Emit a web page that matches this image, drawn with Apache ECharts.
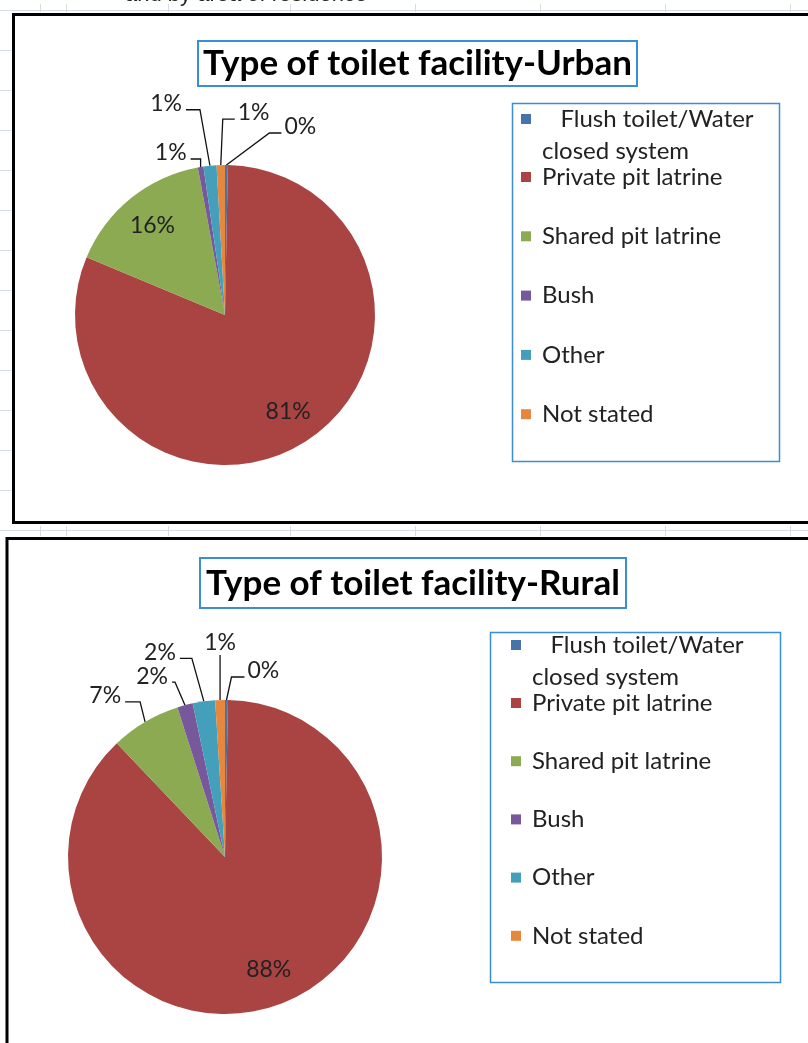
<!DOCTYPE html>
<html lang="en">
    <head>
        <meta charset="utf-8">
        <title>Type of toilet facility</title>
        <style>
            html, body { margin: 0; padding: 0; background: #fff; }
            #main { width: 808px; height: 1043px; }
        </style>
    </head>
    <body>
        <div id="main"></div>
        <script src="https://cdn.jsdelivr.net/npm/echarts@6/dist/echarts.min.js"></script>
        <script type="text/javascript">
            // categories, same order as the excel sheet (clockwise from 12 o'clock)
            var categories = ['Flush toilet/Water closed system', 'Private pit latrine', 'Shared pit latrine', 'Bush', 'Other', 'Not stated'];
            // percent of households
            var urbanValues = [0.3, 81.0, 15.8, 0.6, 1.4, 0.9];
            var ruralValues = [0.3, 87.6, 7.2, 1.6, 2.3, 1.0];
            var sliceColors = ['#4673AA', '#A94442', '#8CAA52', '#77599B', '#44A0BA', '#E5873D'];

            // leader lines of the small slices: elbow offset from the slice edge, then horizontal run
            var urbanLeaders = [
                { dx: 43, dy: -32, len: 12 },
                null,
                null,
                { dx: 0, dy: -8, len: -10 },
                { dx: -10, dy: -56, len: -14 },
                { dx: 2, dy: -46, len: 12 }
            ];
            var ruralLeaders = [
                { dx: 5, dy: -23, len: 13 },
                null,
                { dx: -5, dy: -20, len: -15 },
                { dx: -10, dy: -23, len: -3 },
                { dx: -12, dy: -43, len: -12 },
                { dx: 0, dy: -45, len: 0 }
            ];

            var FONT = 'Lato, "Open Sans", sans-serif';
            var INSIDE_MIN = 10;
            var myChart = echarts.init(document.getElementById('main'));

            function pctLabel(p) {
                return Math.round(p.percent) + '%';
            }

            // main pie: small slices get outside labels with leader lines
            function mainData(values) {
                return values.map(function (v, i) {
                    return {
                        name: categories[i],
                        value: v,
                        itemStyle: { color: sliceColors[i] },
                        label: { show: v < INSIDE_MIN },
                        labelLine: { show: v < INSIDE_MIN }
                    };
                });
            }
            // transparent ring, only used to put the big labels at 3/4 radius
            function ringData(values) {
                return values.map(function (v, i) {
                    return {
                        name: categories[i],
                        value: v,
                        label: { show: v >= INSIDE_MIN }
                    };
                });
            }

            function leaderLayout(leaders) {
                return function (params) {
                    var s = leaders[params.dataIndex];
                    if (!s || !params.labelLinePoints) {
                        return;
                    }
                    var p0 = params.labelLinePoints[0];
                    var p1 = [p0[0] + s.dx, p0[1] + s.dy];
                    var p2 = [p1[0] + s.len, p1[1]];
                    if (s.len === 0) {
                        return {
                            x: p2[0], y: p2[1] - 1,
                            align: 'center', verticalAlign: 'bottom',
                            labelLinePoints: [p0, p1, p2]
                        };
                    }
                    return {
                        x: s.len < 0 ? p2[0] - 4 : p2[0] + 3,
                        y: p2[1] - 6,
                        align: s.len < 0 ? 'right' : 'left',
                        verticalAlign: 'middle',
                        labelLinePoints: [p0, p1, p2]
                    };
                };
            }

            function pieSeries(values, leaders, center, r) {
                return [{
                    type: 'pie',
                    center: center,
                    radius: [0, r],
                    startAngle: 90,
                    clockwise: true,
                    animation: false,
                    avoidLabelOverlap: false,
                    itemStyle: { borderWidth: 0 },
                    label: {
                        position: 'outside',
                        formatter: pctLabel,
                        color: '#222',
                        fontSize: 23,
                        fontFamily: FONT
                    },
                    labelLine: {
                        length: 14,
                        length2: 14,
                        lineStyle: { color: '#111', width: 1.3 }
                    },
                    labelLayout: leaderLayout(leaders),
                    emphasis: { disabled: true },
                    data: mainData(values)
                }, {
                    type: 'pie',
                    center: center,
                    radius: [r / 2, r],
                    startAngle: 90,
                    silent: true,
                    animation: false,
                    itemStyle: { color: 'rgba(0,0,0,0)', borderWidth: 0 },
                    label: {
                        position: 'inside',
                        formatter: pctLabel,
                        color: '#222',
                        fontSize: 23,
                        fontFamily: FONT
                    },
                    labelLine: { show: false },
                    emphasis: { disabled: true },
                    data: ringData(values)
                }];
            }

            function legendName(name) {
                if (name === categories[0]) {
                    // blank first line keeps the square level with the first text line
                    return ' \n   Flush toilet/Water\nclosed system';
                }
                return name;
            }

            function legends(left, topFirst, topRest, gap) {
                var base = {
                    orient: 'vertical',
                    left: left,
                    padding: 0,
                    itemWidth: 22,
                    itemHeight: 10,
                    icon: 'path://M0,0h10v10h-10z',
                    symbolKeepAspect: true,
                    selectedMode: false,
                    itemStyle: { borderWidth: 0 },
                    formatter: legendName,
                    textStyle: { color: '#222', fontSize: 24, fontFamily: FONT, lineHeight: 24 }
                };
                var first = echarts.util.merge({
                    top: topFirst,
                    data: [categories[0]],
                    textStyle: { lineHeight: 32 }
                }, base);
                var rest = echarts.util.merge({
                    top: topRest,
                    itemGap: gap,
                    data: categories.slice(1)
                }, base);
                return [first, rest];
            }

            var gridLine = { stroke: '#D6DCE6', lineWidth: 1 };
            var graphics = [
                // spreadsheet grid peeking out between the chart frames
                { type: 'line', shape: { x1: 0, y1: 10.5, x2: 808, y2: 10.5 }, style: gridLine, silent: true },
                { type: 'line', shape: { x1: 0, y1: 530.5, x2: 808, y2: 530.5 }, style: gridLine, silent: true },
                { type: 'text', left: 125, top: -16, style: { text: 'and by area of residence', font: '22px "Liberation Sans", Arial, sans-serif', fill: '#222' }, silent: true },
                // chart frames
                { type: 'rect', shape: { x: 13.5, y: 14.5, width: 900, height: 508 }, style: { fill: 'none', stroke: '#000', lineWidth: 3 }, silent: true, z: 100 },
                { type: 'rect', shape: { x: 7, y: 538.5, width: 900, height: 600 }, style: { fill: 'none', stroke: '#000', lineWidth: 3 }, silent: true, z: 100 },
                // legend boxes
                { type: 'rect', shape: { x: 512.5, y: 103.5, width: 267, height: 358 }, style: { fill: 'none', stroke: '#3C8DD6', lineWidth: 1.5 }, silent: true },
                { type: 'rect', shape: { x: 490.5, y: 632.5, width: 290, height: 350 }, style: { fill: 'none', stroke: '#3C8DD6', lineWidth: 1.5 }, silent: true }
            ];
            // row ticks left of the upper frame
            for (var gy = 50; gy < 520; gy += 40) {
                graphics.push({ type: 'line', shape: { x1: 0, y1: gy + 0.5, x2: 11, y2: gy + 0.5 }, style: gridLine, silent: true });
            }
            [40, 66, 168, 290, 415, 540, 665, 790].forEach(function (gx) {
                graphics.push({ type: 'line', shape: { x1: gx + 0.5, y1: 526, x2: gx + 0.5, y2: 536 }, style: gridLine, silent: true });
                graphics.push({ type: 'line', shape: { x1: gx + 0.5, y1: 4, x2: gx + 0.5, y2: 12 }, style: gridLine, silent: true });
            });

            option = {
                backgroundColor: '#fff',
                title: [{
                    text: 'Type of toilet facility-Urban',
                    left: 198,
                    top: 41,
                    padding: [5, 5, 5, 5],
                    borderColor: '#3C8DD6',
                    borderWidth: 2,
                    textStyle: { color: '#000', fontSize: 35, lineHeight: 35, fontWeight: 'bold', fontFamily: FONT }
                }, {
                    text: 'Type of toilet facility-Rural',
                    left: 200,
                    top: 558,
                    padding: [8, 6, 7, 6],
                    borderColor: '#3C8DD6',
                    borderWidth: 2,
                    textStyle: { color: '#000', fontSize: 35, lineHeight: 35, fontWeight: 'bold', fontFamily: FONT }
                }],
                legend: legends(521, 71, 165, 35.3).concat(legends(511, 597, 691, 34.2)),
                graphic: graphics,
                series: pieSeries(urbanValues, urbanLeaders, [225, 315], 150)
                    .concat(pieSeries(ruralValues, ruralLeaders, [225, 857], 157))
            };
            myChart.setOption(option);
        </script>
    </body>
</html>
